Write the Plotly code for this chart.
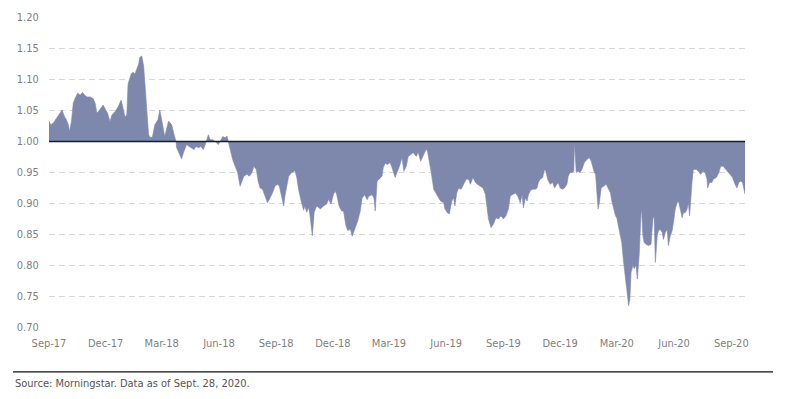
import pandas as pd
import plotly.graph_objects as go

start_date = "2017-09-01"
days_since_start = [
    0, 3, 7, 12, 18, 21, 25, 28, 31, 33, 36, 39, 43, 46, 50, 54, 57, 61, 66, 71,
    74, 77, 79, 84, 87, 91, 94, 98, 101, 106, 111, 116, 118, 122, 125, 127, 132, 135, 138, 141,
    144, 146, 149, 152, 154, 157, 160, 162, 166, 170, 175, 178, 182, 186, 192, 197, 201, 204, 205, 209,
    213, 216, 221, 225, 229, 233, 236, 240, 244, 248, 252, 256, 259, 263, 267, 272, 275, 279, 283, 286,
    288, 292, 295, 299, 303, 307, 310, 313, 318, 322, 326, 329, 333, 336, 339, 343, 347, 351, 355, 359,
    363, 367, 370, 374, 377, 379, 385, 390, 395, 398, 401, 405, 409, 411, 414, 417, 419, 423, 426, 430,
    436, 441, 446, 449, 453, 457, 460, 462, 466, 470, 473, 477, 480, 484, 487, 492, 496, 500, 503, 507,
    511, 514, 519, 522, 524, 527, 530, 535, 537, 540, 544, 548, 551, 556, 559, 563, 567, 570, 574, 577,
    581, 585, 590, 593, 597, 601, 603, 606, 608, 611, 614, 618, 622, 626, 629, 634, 636, 640, 643, 647,
    650, 652, 655, 658, 662, 666, 670, 674, 677, 681, 685, 688, 693, 697, 701, 703, 706, 710, 714, 718,
    722, 726, 730, 734, 738, 741, 745, 749, 753, 757, 760, 762, 765, 768, 770, 773, 776, 781, 784, 786,
    789, 793, 796, 798, 801, 805, 809, 812, 816, 818, 821, 825, 828, 832, 834, 837, 840, 843, 844, 847,
    850, 853, 856, 860, 864, 868, 871, 873, 876, 878, 882, 884, 887, 891, 895, 898, 902, 904, 907, 910,
    912, 915, 918, 920, 923, 926, 928, 931, 933, 935, 938, 940, 943, 945, 948, 951, 952, 954, 956, 959,
    963, 967, 970, 972, 974, 977, 979, 982, 985, 987, 990, 993, 995, 998, 1001, 1003, 1006, 1009, 1011, 1014,
    1017, 1019, 1022, 1025, 1027, 1029, 1031, 1033, 1035, 1040, 1043, 1047, 1050, 1054, 1057, 1058, 1061, 1065, 1067, 1072,
    1076, 1079, 1083, 1086, 1090, 1094, 1098, 1102, 1105, 1108, 1111, 1114, 1117, 1118,
]
ratio = [
    1.033, 1.027, 1.030, 1.038, 1.046, 1.051, 1.040, 1.035, 1.027, 1.016, 1.032, 1.062, 1.072, 1.078, 1.075, 1.079, 1.075, 1.072, 1.072, 1.069,
    1.062, 1.046, 1.048, 1.056, 1.059, 1.051, 1.046, 1.032, 1.043, 1.048, 1.056, 1.067, 1.059, 1.040, 1.043, 1.093, 1.109, 1.112, 1.109, 1.117,
    1.125, 1.136, 1.138, 1.122, 1.096, 1.059, 1.011, 1.007, 1.007, 1.027, 1.035, 1.051, 1.032, 1.008, 1.033, 1.027, 1.011, 1.000, 0.990, 0.982,
    0.972, 0.982, 0.995, 0.992, 0.990, 0.987, 0.992, 0.990, 0.992, 0.987, 0.998, 1.011, 1.003, 1.003, 1.000, 0.995, 1.000, 1.008, 1.006, 1.009,
    1.000, 0.982, 0.971, 0.960, 0.950, 0.928, 0.936, 0.944, 0.947, 0.944, 0.950, 0.960, 0.955, 0.936, 0.925, 0.923, 0.912, 0.901, 0.909, 0.917,
    0.928, 0.931, 0.928, 0.906, 0.896, 0.912, 0.944, 0.950, 0.953, 0.942, 0.922, 0.904, 0.889, 0.896, 0.886, 0.894, 0.883, 0.848, 0.886, 0.896,
    0.891, 0.896, 0.899, 0.907, 0.899, 0.915, 0.920, 0.915, 0.896, 0.888, 0.888, 0.864, 0.856, 0.859, 0.847, 0.861, 0.872, 0.888, 0.909, 0.914,
    0.906, 0.912, 0.914, 0.909, 0.888, 0.936, 0.939, 0.944, 0.958, 0.965, 0.963, 0.966, 0.958, 0.942, 0.950, 0.960, 0.974, 0.952, 0.960, 0.976,
    0.979, 0.982, 0.976, 0.983, 0.968, 0.976, 0.982, 0.988, 0.984, 0.968, 0.950, 0.923, 0.915, 0.909, 0.904, 0.901, 0.891, 0.885, 0.883, 0.904,
    0.909, 0.896, 0.917, 0.925, 0.923, 0.931, 0.939, 0.939, 0.931, 0.942, 0.934, 0.931, 0.928, 0.925, 0.915, 0.896, 0.875, 0.861, 0.867, 0.877,
    0.875, 0.880, 0.875, 0.880, 0.891, 0.912, 0.914, 0.917, 0.912, 0.901, 0.914, 0.893, 0.909, 0.904, 0.914, 0.920, 0.923, 0.923, 0.925, 0.934,
    0.939, 0.942, 0.955, 0.952, 0.939, 0.931, 0.934, 0.925, 0.931, 0.934, 0.925, 0.923, 0.925, 0.931, 0.944, 0.950, 0.950, 0.952, 0.999, 0.950,
    0.952, 0.950, 0.955, 0.966, 0.971, 0.974, 0.968, 0.960, 0.950, 0.947, 0.891, 0.901, 0.925, 0.928, 0.931, 0.925, 0.917, 0.904, 0.891, 0.880,
    0.877, 0.864, 0.848, 0.837, 0.805, 0.783, 0.762, 0.735, 0.745, 0.789, 0.800, 0.795, 0.800, 0.778, 0.816, 0.885, 0.888, 0.848, 0.837, 0.834,
    0.832, 0.834, 0.875, 0.880, 0.805, 0.848, 0.856, 0.858, 0.853, 0.842, 0.853, 0.858, 0.832, 0.848, 0.856, 0.869, 0.891, 0.901, 0.904, 0.891,
    0.877, 0.885, 0.885, 0.891, 0.901, 0.880, 0.917, 0.936, 0.955, 0.955, 0.952, 0.947, 0.952, 0.950, 0.939, 0.925, 0.934, 0.934, 0.939, 0.942,
    0.950, 0.960, 0.960, 0.956, 0.952, 0.947, 0.942, 0.931, 0.925, 0.934, 0.936, 0.934, 0.917, 0.915,
]
baseline_value = 1.0
tick_dates = ["2017-09-01", "2017-12-01", "2018-03-01", "2018-06-01", "2018-09-01", "2018-12-01",
              "2019-03-01", "2019-06-01", "2019-09-01", "2019-12-01", "2020-03-01", "2020-06-01", "2020-09-01"]
tick_labels = ["Sep-17", "Dec-17", "Mar-18", "Jun-18", "Sep-18", "Dec-18",
               "Mar-19", "Jun-19", "Sep-19", "Dec-19", "Mar-20", "Jun-20", "Sep-20"]
y_ticks = [0.70, 0.75, 0.80, 0.85, 0.90, 0.95, 1.00, 1.05, 1.10, 1.15, 1.20]
source_text = "Source: Morningstar. Data as of Sept. 28, 2020."

dates = pd.Timestamp(start_date) + pd.to_timedelta(days_since_start, unit="D")
base = [baseline_value] * len(dates)

FONT = "Liberation Sans Narrow, DejaVu Sans Condensed, Arial, sans-serif"
FILL = "#7e88ac"

fig = go.Figure()
fig.add_trace(go.Scatter(x=dates, y=base, mode="lines", line=dict(width=0, color=FILL),
                         hoverinfo="skip", showlegend=False))
fig.add_trace(go.Scatter(x=dates, y=ratio, mode="lines", fill="tonexty", fillcolor=FILL,
                         line=dict(width=0.6, color=FILL), showlegend=False))
fig.add_trace(go.Scatter(x=dates, y=base, mode="lines", line=dict(width=1.6, color="#1a1a2a"),
                         hoverinfo="skip", showlegend=False))

# the page body has an 8px default margin, so the figure is sized to sit inside it
fig.update_layout(
    width=771, height=383,
    margin=dict(l=41, r=34, t=9, b=63, autoexpand=False),
    paper_bgcolor="white", plot_bgcolor="white",
    font=dict(family=FONT, size=11, color="#7f7f7f"),
    xaxis=dict(
        range=[dates[0], dates[-1]],
        tickvals=tick_dates, ticktext=tick_labels,
        showgrid=False, zeroline=False, showline=False, automargin=False,
        ticks="outside", ticklen=5, tickcolor="rgba(0,0,0,0)",
        tickfont=dict(family=FONT, size=11, color="#7f7f7f"),
    ),
    yaxis=dict(
        range=[0.699, 1.201],
        tickvals=y_ticks, tickformat=".2f",
        showgrid=True, gridcolor="#d9d9d9", gridwidth=1, griddash="6px,4px",
        zeroline=False, showline=False, automargin=False,
        ticks="outside", ticklen=7, tickcolor="rgba(0,0,0,0)",
        tickfont=dict(family=FONT, size=11, color="#7f7f7f"),
    ),
    shapes=[dict(type="line", xref="paper", yref="paper",
                 x0=-0.0517, x1=1.0402, y0=-0.141, y1=-0.141,
                 line=dict(color="#111111", width=1.2))],
    annotations=[dict(text=source_text, xref="paper", yref="paper",
                      x=-0.0517, y=-0.18, xanchor="left", yanchor="middle",
                      showarrow=False,
                      font=dict(family=FONT, size=11, color="#555555"))],
)

fig.write_html("out.html")
